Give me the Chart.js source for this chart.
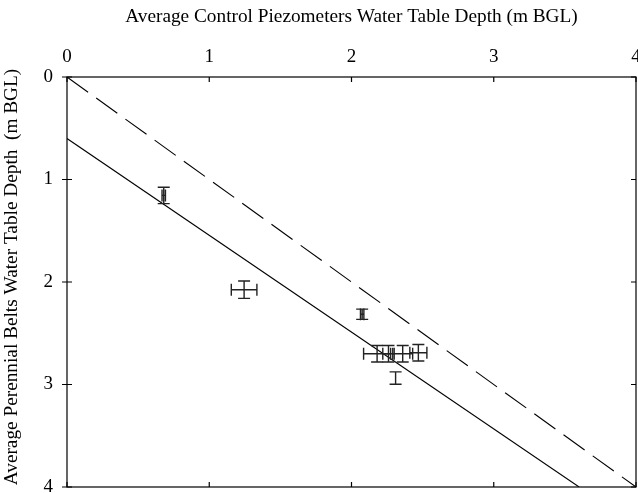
<!DOCTYPE html>
<html>
<head>
<meta charset="utf-8">
<script src="https://cdn.jsdelivr.net/npm/chart.js@4.4.1/dist/chart.umd.min.js"></script>
<style>
  body { margin: 0; background: #fff; }
</style>
</head>
<body>
<canvas id="depthChart" width="638" height="493"></canvas>
<script>
// tick values for both axes (m BGL)
const xTicks = [0, 1, 2, 3, 4];
const yTicks = [0, 1, 2, 3, 4];

// piezometer pairs: control depth (x) vs perennial belt depth (y), with error bars
const controlDepth = [0.68, 1.245, 2.075, 2.18, 2.26, 2.36, 2.47, 2.31];
const controlErr   = [0.012, 0.09, 0.012, 0.095, 0.04, 0.07, 0.06, 0];
const beltDepth    = [1.155, 2.075, 2.315, 2.70, 2.70, 2.70, 2.69, 2.937];
const beltErr      = [0.08, 0.085, 0.05, 0.08, 0.08, 0.08, 0.08, 0.06];

// fitted line (solid) and 1:1 line (dashed), end points
const fitX = [0, 3.6];
const fitY = [0.6, 4.0];
const oneToOneX = [0, 4];
const oneToOneY = [0, 4];

const serif = '"Liberation Serif", "DejaVu Serif", serif';
const fontSize = 19;

const toPts = (xs, ys) => xs.map((x, i) => ({x: x, y: ys[i]}));

// draws the error bars of the first dataset
const errorBars = {
  id: 'errorBars',
  afterDatasetsDraw(chart) {
    const xs = chart.scales.x, ys = chart.scales.y;
    const c = chart.ctx;
    const cap = 6;
    c.save();
    c.strokeStyle = '#222';
    c.lineWidth = 1.4;
    controlDepth.forEach((xv, i) => {
      const px = xs.getPixelForValue(xv), py = ys.getPixelForValue(beltDepth[i]);
      const y0 = ys.getPixelForValue(beltDepth[i] - beltErr[i]);
      const y1 = ys.getPixelForValue(beltDepth[i] + beltErr[i]);
      c.beginPath();
      c.moveTo(px, y0); c.lineTo(px, y1);
      c.moveTo(px - cap, y0); c.lineTo(px + cap, y0);
      c.moveTo(px - cap, y1); c.lineTo(px + cap, y1);
      if (controlErr[i] > 0) {
        const x0 = xs.getPixelForValue(xv - controlErr[i]);
        const x1 = xs.getPixelForValue(xv + controlErr[i]);
        c.moveTo(x0, py); c.lineTo(x1, py);
        c.moveTo(x0, py - cap); c.lineTo(x0, py + cap);
        c.moveTo(x1, py - cap); c.lineTo(x1, py + cap);
      }
      c.stroke();
    });
    c.restore();
  }
};

// frame, tick marks and axis titles
const frame = {
  id: 'frame',
  afterDraw(chart) {
    const a = chart.chartArea, c = chart.ctx;
    const xs = chart.scales.x, ys = chart.scales.y;
    c.save();
    c.strokeStyle = '#000';
    c.lineWidth = 1.2;
    c.strokeRect(a.left, a.top, a.right - a.left, a.bottom - a.top);
    c.beginPath();
    xTicks.forEach(v => {
      const px = xs.getPixelForValue(v);
      c.moveTo(px, a.top); c.lineTo(px, a.top + 5);
      c.moveTo(px, a.bottom); c.lineTo(px, a.bottom - 5);
    });
    yTicks.forEach(v => {
      const py = ys.getPixelForValue(v);
      c.moveTo(a.left - 5, py); c.lineTo(a.left + 5, py);
      c.moveTo(a.right, py); c.lineTo(a.right - 5, py);
    });
    c.stroke();

    c.fillStyle = '#000';
    c.font = '19.3px ' + serif;
    c.textAlign = 'center';
    c.textBaseline = 'middle';
    c.fillText('Average Control Piezometers Water Table Depth (m BGL)', (a.left + a.right) / 2, 17);
    c.translate(12, 277);
    c.rotate(-Math.PI / 2);
    c.fillText('Average Perennial Belts Water Table Depth  (m BGL)', 0, 0);
    c.restore();
  }
};

new Chart(document.getElementById('depthChart'), {
  type: 'scatter',
  data: {
    datasets: [
      {
        label: 'Piezometers',
        data: toPts(controlDepth, beltDepth),
        pointRadius: 0,
        showLine: false
      },
      {
        label: 'Fit',
        data: toPts(fitX, fitY),
        showLine: true,
        borderColor: '#000',
        borderWidth: 1.1,
        pointRadius: 0
      },
      {
        label: '1:1',
        data: toPts(oneToOneX, oneToOneY),
        showLine: true,
        borderColor: '#000',
        borderWidth: 1.1,
        borderDash: [26, 10],
        pointRadius: 0
      }
    ]
  },
  options: {
    responsive: false,
    animation: false,
    layout: { padding: { top: 0, left: 0, right: 2, bottom: 6 } },
    plugins: { legend: { display: false }, tooltip: { enabled: false } },
    scales: {
      x: {
        type: 'linear', position: 'top', min: 0, max: 4,
        afterBuildTicks: s => { s.ticks = xTicks.map(v => ({value: v})); },
        ticks: { color: '#000', font: { family: serif, size: fontSize }, padding: 9 },
        grid: { display: false, drawTicks: false },
        border: { display: false },
        afterFit: s => { s.height = 77; s.paddingLeft = 0; s.paddingRight = 0; }
      },
      y: {
        type: 'linear', reverse: true, min: 0, max: 4,
        afterBuildTicks: s => { s.ticks = yTicks.map(v => ({value: v})); },
        ticks: { color: '#000', font: { family: serif, size: fontSize }, padding: 14 },
        grid: { display: false, drawTicks: false },
        border: { display: false },
        afterFit: s => { s.width = 67; s.paddingTop = 0; s.paddingBottom = 0; }
      }
    }
  },
  plugins: [errorBars, frame]
});
</script>
</body>
</html>
